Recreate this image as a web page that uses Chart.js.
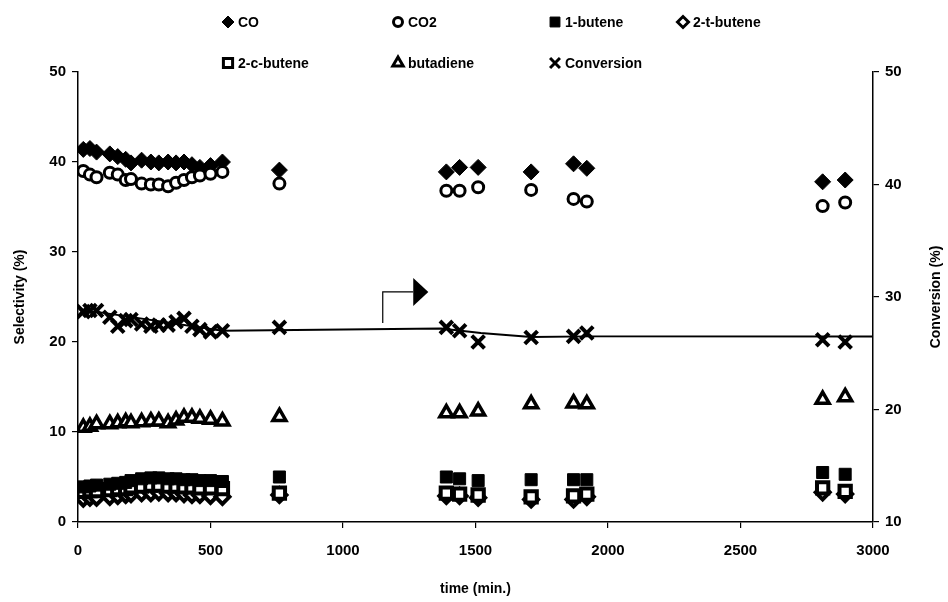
<!DOCTYPE html>
<html>
<head>
<meta charset="utf-8">
<script src="https://cdn.jsdelivr.net/npm/chart.js@4/dist/chart.umd.min.js"></script>
<style>
  html, body { margin: 0; padding: 0; background: #fff; }
  #wrap { width: 948px; height: 602px; position: relative; }
</style>
</head>
<body>
<div id="wrap"><canvas id="chart" width="948" height="602"></canvas></div>
<script>
// time on stream (min.)
const times = [20, 45, 70, 120, 150, 180, 200, 240, 275, 305, 340, 370, 400, 430, 460, 500, 545,
               760, 1390, 1440, 1510, 1710, 1870, 1920, 2810, 2895];

// selectivities (%)
const co        = [41.4, 41.5, 41.1, 40.9, 40.6, 40.3, 39.9, 40.2, 40.0, 39.9, 40.0, 39.9, 40.0, 39.7, 39.4, 39.6, 40.0,
                   39.1, 38.9, 39.4, 39.4, 38.9, 39.8, 39.3, 37.8, 38.0];
const co2       = [39.0, 38.6, 38.3, 38.8, 38.6, 38.0, 38.1, 37.6, 37.5, 37.5, 37.3, 37.7, 38.0, 38.3, 38.5, 38.7, 38.9,
                   37.6, 36.8, 36.8, 37.2, 36.9, 35.9, 35.6, 35.1, 35.5];
const butene1   = [3.9, 4.0, 4.1, 4.2, 4.3, 4.4, 4.6, 4.8, 4.9, 4.9, 4.8, 4.8, 4.7, 4.7, 4.6, 4.6, 4.5,
                   5.0, 5.0, 4.8, 4.6, 4.7, 4.7, 4.7, 5.5, 5.3];
const butene2t  = [2.6, 2.7, 2.7, 2.8, 2.9, 3.0, 3.1, 3.2, 3.2, 3.3, 3.2, 3.2, 3.1, 3.0, 3.0, 2.9, 2.8,
                   3.0, 2.9, 2.9, 2.7, 2.5, 2.5, 2.8, 3.3, 3.1];
const butene2c  = [3.4, 3.5, 3.5, 3.6, 3.7, 3.7, 3.9, 4.0, 4.1, 4.1, 4.0, 4.0, 3.9, 3.9, 3.8, 3.8, 3.7,
                   3.2, 3.2, 3.1, 3.0, 2.8, 2.9, 3.1, 3.8, 3.4];
const butadiene = [10.5, 10.6, 10.9, 10.9, 11.0, 11.1, 11.0, 11.1, 11.2, 11.2, 11.0, 11.3, 11.6, 11.6, 11.5, 11.4, 11.2,
                   11.7, 12.1, 12.1, 12.3, 13.1, 13.2, 13.1, 13.6, 13.9];

// conversion (%), right axis
const conversion = [28.7, 28.8, 28.8, 28.2, 27.4, 27.9, 28.0, 27.6, 27.4, 27.5, 27.5, 27.8, 28.1, 27.4, 27.1, 26.9, 27.0,
                    27.3, 27.3, 27.0, 26.0, 26.4, 26.5, 26.8, 26.2, 26.0];

// trend line through the conversion
const trendTimes = [10, 65, 545, 1370, 1520, 1710, 1930, 3000];
const trendConv  = [28.7, 28.7, 27.0, 27.2, 26.8, 26.45, 26.5, 26.5];

// arrow annotation (time, conversion)
const arrowStem = [[1150, 27.7], [1150, 30.45], [1265, 30.45]];
const arrowHead = { base: 1265, tip: 1322, y: 30.45, half: 1.25 };

const xTicks = [0, 500, 1000, 1500, 2000, 2500, 3000];

const FONT = '"Liberation Sans", Arial, sans-serif';

const pts = arr => arr.map((v, i) => ({ x: times[i], y: v }));

const markerSeries = [
    { label: 'CO',         data: co,         style: 'rectRot',  r: 8,   fill: '#000', bw: 1,   lr: 6 },
    { label: 'CO2',        data: co2,        style: 'circle',   r: 5.5, fill: '#fff', bw: 3,   lr: 4.5 },
    { label: '1-butene',   data: butene1,    style: 'rect',     r: 8.5, fill: '#000', bw: 1,   lr: 7 },
    { label: '2-t-butene', data: butene2t,   style: 'rectRot',  r: 7,   fill: '#fff', bw: 4,   lr: 5.5 },
    { label: '2-c-butene', data: butene2c,   style: 'rect',     r: 8,   fill: '#fff', bw: 4,   lr: 6.5 },
    { label: 'butadiene',  data: butadiene,  style: 'triangle', r: 7.5, fill: '#fff', bw: 3.5, lr: 6 },
    { label: 'Conversion', data: conversion, style: 'crossRot', r: 9,   fill: '#000', bw: 4,   lr: 7, axis: 'y1' }
];

const datasets = markerSeries.map((s, i) => ({
    label: s.label,
    data: pts(s.data),
    yAxisID: s.axis || 'y',
    showLine: false,
    pointStyle: s.style,
    pointRadius: s.r,
    pointBackgroundColor: s.fill,
    pointBorderColor: '#000',
    pointBorderWidth: s.bw,
    order: 20 - i
}));

// filled 1-butene squares sit on top of the open c/t-butene marks
datasets[2].order = 5;

datasets.push({
    label: 'trend',
    data: trendTimes.map((t, i) => ({ x: t, y: trendConv[i] })),
    yAxisID: 'y1',
    showLine: true,
    borderColor: '#000',
    borderWidth: 2,
    pointRadius: 0,
    tension: 0,
    order: 30
});

// legend layout (pixel positions of legend entries)
const legendPos = [
    [228, 22], [398, 22], [555, 22], [683, 22],
    [228, 63], [398, 63], [555, 63]
];

const extras = {
    id: 'extras',
    afterDatasetsDraw(chart) {
        const ctx = chart.ctx;
        const x = chart.scales.x, y1 = chart.scales.y1;
        ctx.save();
        ctx.strokeStyle = '#000';
        ctx.lineWidth = 1.2;
        ctx.beginPath();
        arrowStem.forEach((p, i) => {
            const px = x.getPixelForValue(p[0]), py = y1.getPixelForValue(p[1]);
            if (i === 0) ctx.moveTo(px, py); else ctx.lineTo(px, py);
        });
        ctx.stroke();
        ctx.fillStyle = '#000';
        ctx.beginPath();
        ctx.moveTo(x.getPixelForValue(arrowHead.base), y1.getPixelForValue(arrowHead.y + arrowHead.half));
        ctx.lineTo(x.getPixelForValue(arrowHead.tip), y1.getPixelForValue(arrowHead.y));
        ctx.lineTo(x.getPixelForValue(arrowHead.base), y1.getPixelForValue(arrowHead.y - arrowHead.half));
        ctx.closePath();
        ctx.fill();
        ctx.restore();
    },
    afterDraw(chart) {
        const ctx = chart.ctx;
        const area = chart.chartArea;
        ctx.save();
        // legend
        ctx.font = 'bold 14px ' + FONT;
        ctx.textBaseline = 'middle';
        markerSeries.forEach((s, k) => {
            const [lx, ly] = legendPos[k];
            ctx.fillStyle = s.fill;
            ctx.strokeStyle = '#000';
            ctx.lineWidth = Math.min(s.bw, 3);
            Chart.helpers.drawPoint(ctx, {
                pointStyle: s.style, radius: s.lr, borderWidth: Math.min(s.bw, 3), rotation: 0
            }, lx, ly);
            ctx.fillStyle = '#000';
            ctx.fillText(s.label, lx + 10, ly + 1);
        });
        // vertical axis titles
        ctx.textAlign = 'center';
        const midY = (area.top + area.bottom) / 2;
        ctx.translate(20, midY);
        ctx.rotate(-Math.PI / 2);
        ctx.fillText('Selectivity (%)', 0, 0);
        ctx.setTransform(1, 0, 0, 1, 0, 0);
        ctx.translate(936, midY);
        ctx.rotate(-Math.PI / 2);
        ctx.fillText('Conversion (%)', 0, 0);
        ctx.restore();
    }
};

const tickFont = { family: FONT, size: 15, weight: 'bold' };
const gridOpts = { display: true, drawOnChartArea: false, drawTicks: true, tickLength: 6, color: '#000', lineWidth: 1.2 };
const borderOpts = { display: true, color: '#000', width: 1.5 };

new Chart(document.getElementById('chart'), {
    type: 'scatter',
    data: { datasets },
    options: {
        responsive: false,
        animation: false,
        layout: { padding: { top: 72, left: 0, right: 0, bottom: 0 } },
        plugins: {
            legend: { display: false },
            tooltip: { enabled: false }
        },
        scales: {
            x: {
                type: 'linear',
                min: 0,
                max: 3000,
                afterBuildTicks: s => { s.ticks = xTicks.map(v => ({ value: v })); },
                afterFit: s => { s.height = 80; },
                grid: gridOpts,
                border: borderOpts,
                ticks: { color: '#000', font: tickFont, padding: 14, maxRotation: 0, callback: v => String(v) },
                title: { display: true, text: 'time (min.)', color: '#000', font: { family: FONT, size: 14, weight: 'bold' }, padding: { top: 0, bottom: 4 } }
            },
            y: {
                position: 'left',
                min: 0,
                max: 50,
                afterFit: s => { s.width = 78; },
                grid: gridOpts,
                border: borderOpts,
                ticks: { stepSize: 10, color: '#000', font: tickFont, padding: 6 }
            },
            y1: {
                position: 'right',
                min: 10,
                max: 50,
                afterFit: s => { s.width = 75; },
                grid: gridOpts,
                border: borderOpts,
                ticks: { stepSize: 10, color: '#000', font: tickFont, padding: 6 }
            }
        }
    },
    plugins: [extras]
});
</script>
</body>
</html>
